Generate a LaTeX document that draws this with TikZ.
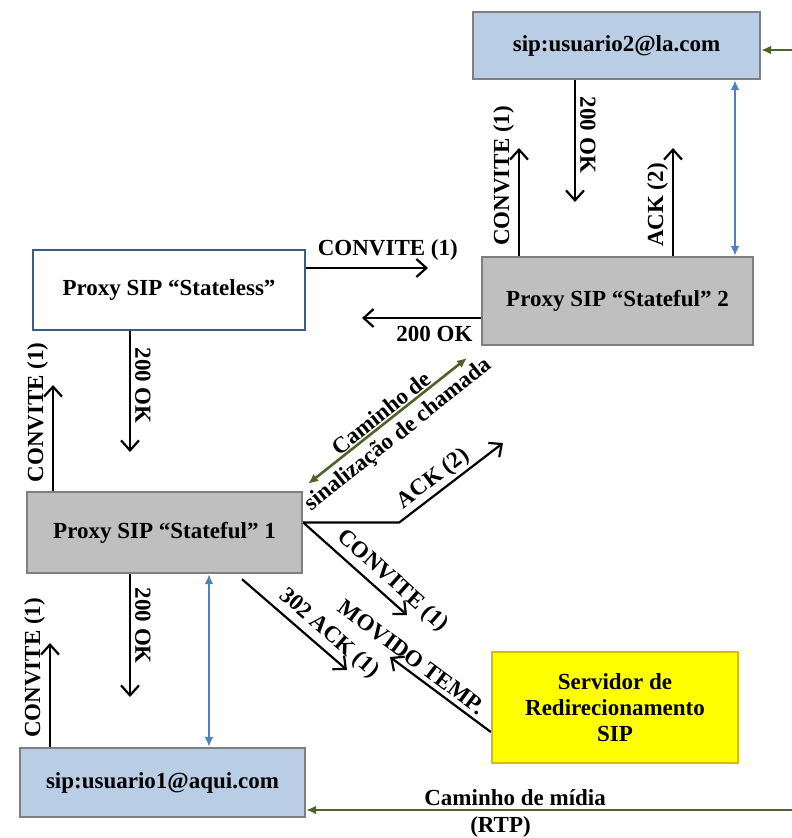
\documentclass[tikz,border=0pt]{standalone}
\usepackage{fontspec}
\setmainfont{Liberation Serif}
\usetikzlibrary{arrows.meta}
\definecolor{userblue}{HTML}{B9CDE5}
\definecolor{boxgray}{HTML}{7F7F7F}
\definecolor{proxygray}{HTML}{BFBFBF}
\definecolor{proxyblue}{HTML}{385D8A}
\definecolor{redirfill}{HTML}{FFFF00}
\definecolor{redirline}{HTML}{D4BE00}
\definecolor{pathgreen}{HTML}{4F6228}
\definecolor{linkblue}{HTML}{4F81BD}

\begin{document}
\begin{tikzpicture}[x=1pt,y=-1pt,
  font=\bfseries\fontsize{23}{26}\selectfont,
  box/.style={draw,line width=2.4pt,align=center,inner sep=0pt},
  msg/.style={line width=2.2pt,-{Straight Barb[length=10pt,width=18pt]}},
  lbl/.style={sloped,above,inner sep=4pt},
  media/.style={line width=2.6pt,draw=pathgreen,-{Latex[length=10pt,width=9pt]}},
  link/.style={line width=2.6pt,draw=linkblue,{Latex[length=10pt,width=9pt]}-{Latex[length=10pt,width=9pt]}}]
  \useasboundingbox (0,0) rectangle (792,838);
  \node[box,fill=userblue,draw=boxgray,minimum width=287pt,minimum height=67pt] (U-2) at (616.5,45.5) {sip:usuario2@la.com};
  \node[box,fill=white,draw=proxyblue,minimum width=272pt,minimum height=80pt] (P-0) at (169,290) {Proxy SIP “Stateless”};
  \node[box,fill=proxygray,draw=boxgray,minimum width=271pt,minimum height=88pt] (P-2) at (617.5,301) {Proxy SIP “Stateful” 2};
  \node[box,fill=proxygray,draw=boxgray,minimum width=275pt,minimum height=81pt] (P-1) at (164.5,532.5) {Proxy SIP “Stateful” 1};
  \node[box,fill=userblue,draw=boxgray,minimum width=285pt,minimum height=69pt] (U-1) at (162.5,782.5) {sip:usuario1@aqui.com};
  \node[box,fill=redirfill,draw=redirline,minimum width=246pt,minimum height=111pt] (R) at (615,707.5) {Servidor de\\Redirecionamento\\SIP};

  \coordinate (A-1) at (575,202);
  \coordinate (A-2) at (519,148);
  \coordinate (A-3) at (673,148);
  \coordinate (A-4) at (428,268);
  \coordinate (A-5) at (362,318);
  \coordinate (A-6) at (130,452);
  \coordinate (A-7) at (53,385);
  \coordinate (A-8) at (503,443);
  \coordinate (A-9) at (407,615);
  \coordinate (A-10) at (347,670);
  \coordinate (A-11) at (390,657);
  \coordinate (A-12) at (130,697);
  \coordinate (A-13) at (50,643);
  \coordinate (C-1) at ([yshift=10pt]P-1.east);
  \coordinate (B-1) at (209,0);
  \coordinate (B-2) at (735,0);
  \coordinate (G-1) at (792,810);
  \coordinate (G-2) at (792,50);
  \coordinate (G-3) at (467,358);

  \draw[msg] (A-1 |- U-2.south) -- (A-1) node[lbl,pos=.45] {200 OK};
  \draw[msg] (A-2 |- P-2.north) -- (A-2) node[lbl,pos=.74] {CONVITE (1)};
  \draw[msg] (A-3 |- P-2.north) -- (A-3) node[lbl,pos=.47] {ACK (2)};
  \draw[link] (B-2 |- U-2.south) -- (B-2 |- P-2.north);
  \draw[media] (G-2) -- (G-2 -| U-2.east);
  \draw[msg] (A-4 -| P-0.east) -- (A-4) node[pos=.67,above,inner sep=7pt] {CONVITE (1)};
  \draw[msg] (A-5 -| P-2.west) -- (A-5) node[pos=.39,below,inner sep=7pt] {200 OK};
  \draw[msg] (A-6 |- P-0.south) -- (A-6) node[lbl,pos=.45] {200 OK};
  \draw[msg] (A-7 |- P-1.north) -- (A-7) node[lbl,pos=.74] {CONVITE (1)};
  \draw[media,{Latex[length=10pt,width=9pt]}-{Latex[length=10pt,width=9pt]}] ([shift={(5,-7)}]P-1.north east) -- (G-3)
    node[midway,sloped,align=center,yshift=-5pt] {Caminho de\\sinalização de chamada};
  \draw[msg] (C-1) -- ++(96,0) -- (A-8) node[lbl,pos=.41,inner sep=2pt] {ACK (2)};
  \draw[msg] (C-1) -- (A-9) node[lbl,pos=.76] {CONVITE (1)};
  \draw[msg] ([xshift=77.5pt,yshift=-5pt]P-1.south) -- (A-10) node[lbl,pos=.73] {302 ACK (1)};
  \draw[msg] ([yshift=-24.5pt]R.west) -- (A-11) node[lbl,pos=.86] {MOVIDO TEMP.};
  \draw[msg] (A-12 |- P-1.south) -- (A-12) node[lbl,pos=.42] {200 OK};
  \draw[link] (B-1 |- P-1.south) -- (B-1 |- U-1.north);
  \draw[msg] (A-13 |- U-1.north) -- (A-13) node[lbl,pos=.76] {CONVITE (1)};
  \draw[media] (G-1) -- (G-1 -| U-1.east) node[pos=.57,above] {Caminho de mídia} node[pos=.6,below,yshift=-2pt] {(RTP)};
\end{tikzpicture}
\end{document}
